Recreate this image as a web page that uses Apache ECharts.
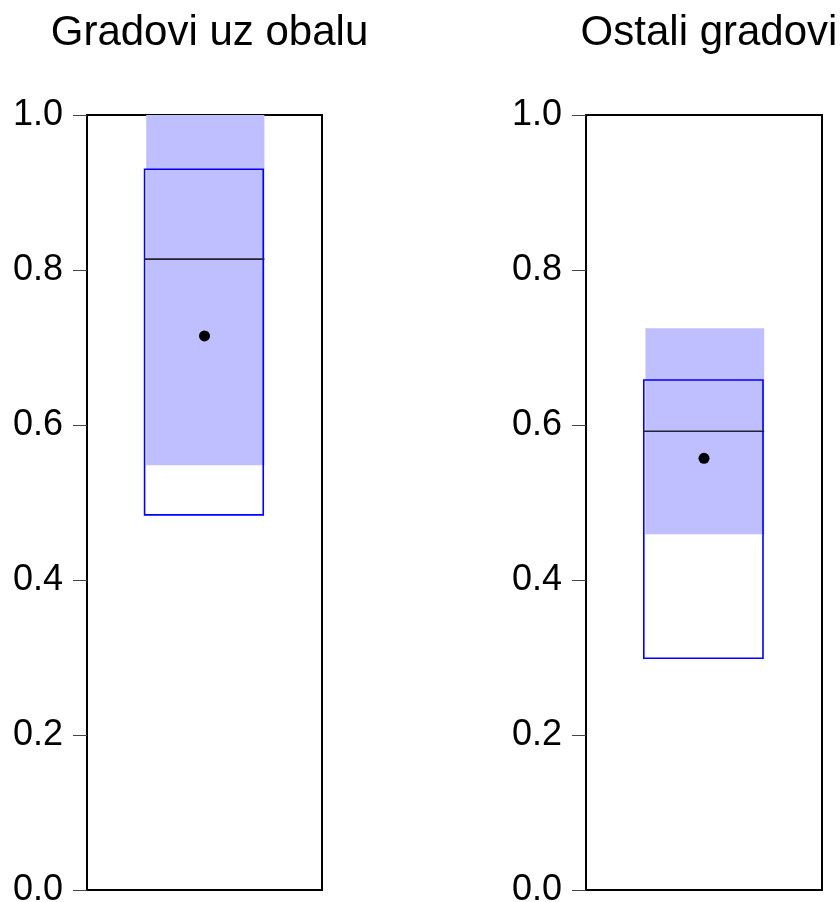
<!DOCTYPE html>
<html>
<head>
<meta charset="utf-8">
<script src="https://cdn.jsdelivr.net/npm/echarts@6/dist/echarts.min.js"></script>
<style>html,body{margin:0;padding:0;background:#fff}#c{width:840px;height:902px}</style>
</head>
<body>
<div id="c"></div>
<script>
var panelTitles = ['Gradovi uz obalu', 'Ostali gradovi'];
var shadeLow  = [0.548, 0.459];
var shadeHigh = [1.000, 0.725];
var boxLow    = [0.484, 0.299];
var boxHigh   = [0.930, 0.658];
var medians   = [0.814, 0.592];
var means     = [0.715, 0.557];
var yTicks    = [0.0, 0.2, 0.4, 0.6, 0.8, 1.0];

var FONT = "'Liberation Sans', Arial, sans-serif";
var grids = [
  {left: 87, top: 115, width: 235, height: 775},
  {left: 586, top: 115, width: 236, height: 775}
];

function renderBox(params, api) {
  var sL = api.value(0), sH = api.value(1), bL = api.value(2), bH = api.value(3), med = api.value(4);
  var pS1 = api.coord([0.252, sH]), pS2 = api.coord([0.755, sL]);
  var pB1 = api.coord([0.245, bH]), pB2 = api.coord([0.75, bL]);
  var m1 = api.coord([0.245, med]), m2 = api.coord([0.755, med]);
  return {
    type: 'group',
    children: [
      {type: 'rect', shape: {x: pS1[0], y: pS1[1], width: pS2[0] - pS1[0], height: pS2[1] - pS1[1]},
       style: {fill: '#bfbfff'}},
      {type: 'rect', shape: {x: pB1[0], y: pB1[1], width: pB2[0] - pB1[0], height: pB2[1] - pB1[1]},
       style: {fill: 'none', stroke: '#0000ff', lineWidth: 1.6}},
      {type: 'line', shape: {x1: m1[0], y1: m1[1], x2: m2[0], y2: m2[1]},
       style: {stroke: '#222233', lineWidth: 1.6}}
    ]
  };
}

var option = {
  animation: false,
  backgroundColor: '#ffffff',
  title: panelTitles.map(function (t, i) {
    return {
      text: t,
      left: grids[i].left + grids[i].width / 2,
      textAlign: 'center',
      top: 7,
      textStyle: {fontFamily: FONT, fontSize: 42, fontWeight: 'normal', color: '#000'}
    };
  }),
  grid: grids.map(function (g) {
    return Object.assign({show: true, borderColor: '#000', borderWidth: 2, backgroundColor: 'transparent',
                          containLabel: false, outerBoundsMode: 'none'}, g);
  }),
  xAxis: grids.map(function (g, i) {
    return {gridIndex: i, type: 'value', min: 0, max: 1, show: false};
  }),
  yAxis: grids.map(function (g, i) {
    return {
      gridIndex: i, type: 'value', min: 0, max: 1, interval: 0.2,
      axisLine: {show: false},
      splitLine: {show: false},
      axisTick: {show: true, inside: false, length: 14, lineStyle: {color: '#444', width: 1}},
      axisLabel: {
        margin: 24, fontFamily: FONT, fontSize: 36, color: '#000', verticalAlign: 'middle',
        formatter: function (v) { return yTicks.indexOf(Math.round(v * 10) / 10) >= 0 ? v.toFixed(1) : ''; }
      }
    };
  }),
  series: []
};

for (var i = 0; i < 2; i++) {
  option.series.push({
    type: 'custom', xAxisIndex: i, yAxisIndex: i,
    renderItem: renderBox,
    data: [[shadeLow[i], shadeHigh[i], boxLow[i], boxHigh[i], medians[i]]],
    encode: {y: [0, 1, 2, 3, 4]},
    silent: true
  });
  option.series.push({
    type: 'scatter', xAxisIndex: i, yAxisIndex: i,
    symbol: 'circle', symbolSize: 11,
    itemStyle: {color: '#000', opacity: 1},
    data: [[0.5, means[i]]],
    z: 5, silent: true
  });
}

var chart = echarts.init(document.getElementById('c'), null, {renderer: 'canvas'});
chart.setOption(option);
</script>
</body>
</html>
